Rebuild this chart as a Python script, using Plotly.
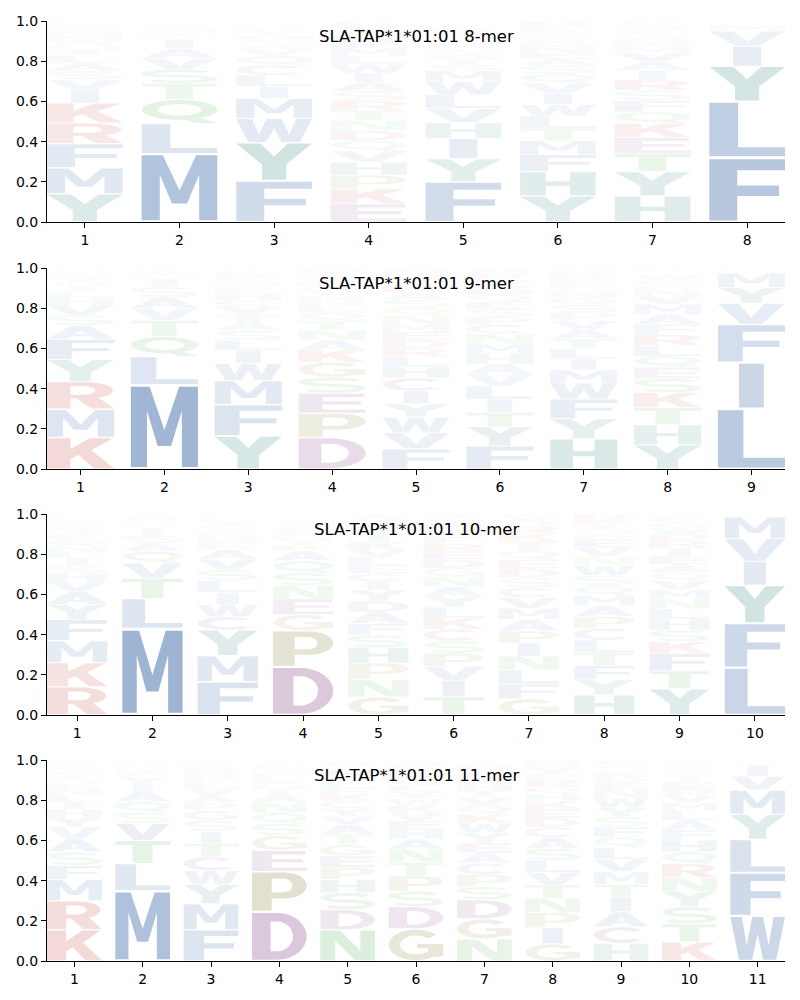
import math
import plotly.graph_objects as go

# ---------------- data ----------------
AMINO_ACIDS = list("ACDEFGHIKLMNPQRSTVWY")

# rows = positions, columns follow AMINO_ACIDS order (probabilities)
FREQ_8MER = [
    [.040, .015, .010, .015, .120, .010, .020, .065, .100, .035, .130, .020, .010, .025, .102, .045, .030, .050, .025, .140],
    [.050, .010, .005, .010, .010, .005, .010, .045, .005, .150, .340, .010, .005, .120, .005, .070, .080, .055, .010, .010],
    [.025, .050, .005, .010, .205, .005, .020, .060, .010, .055, .100, .010, .005, .048, .010, .025, .020, .030, .120, .190],
    [.045, .028, .050, .090, .038, .035, .065, .045, .075, .040, .040, .050, .068, .052, .048, .048, .050, .055, .045, .032],
    [.025, .020, .015, .015, .200, .010, .080, .100, .015, .068, .055, .025, .010, .020, .015, .030, .030, .070, .065, .115],
    [.035, .020, .025, .030, .085, .020, .120, .055, .020, .060, .070, .030, .020, .048, .020, .040, .062, .050, .058, .130],
    [.045, .015, .020, .080, .056, .020, .130, .048, .070, .020, .030, .025, .020, .058, .050, .052, .090, .042, .010, .120],
    [.005, .000, .000, .000, .320, .000, .003, .100, .000, .280, .030, .000, .000, .002, .000, .000, .005, .075, .010, .175],
]

FREQ_9MER = [
    [.070, .005, .010, .012, .100, .005, .040, .025, .157, .030, .140, .012, .005, .020, .138, .050, .020, .048, .010, .110],
    [.055, .010, .000, .005, .010, .000, .005, .040, .000, .140, .420, .010, .000, .100, .000, .050, .080, .060, .010, .010],
    [.040, .030, .010, .020, .155, .010, .030, .065, .020, .050, .120, .020, .005, .020, .020, .050, .040, .040, .085, .165],
    [.050, .020, .157, .100, .020, .075, .025, .015, .060, .035, .015, .050, .120, .040, .025, .080, .045, .025, .020, .020],
    [.035, .064, .040, .040, .100, .025, .055, .065, .035, .050, .040, .040, .025, .040, .045, .040, .035, .080, .078, .066],
    [.050, .045, .030, .035, .115, .025, .050, .068, .030, .065, .050, .050, .040, .035, .025, .040, .070, .060, .020, .095],
    [.045, .020, .020, .020, .098, .015, .150, .055, .020, .050, .065, .030, .040, .035, .020, .040, .050, .045, .080, .100],
    [.050, .010, .025, .056, .052, .025, .100, .010, .075, .054, .050, .030, .010, .055, .053, .070, .085, .040, .025, .120],
    [.005, .000, .000, .000, .190, .000, .000, .230, .000, .300, .072, .000, .000, .000, .000, .000, .005, .105, .015, .078],
]

FREQ_10MER = [
    [.065, .010, .015, .025, .105, .015, .040, .035, .120, .030, .110, .030, .010, .030, .140, .040, .025, .050, .020, .075],
    [.040, .010, .000, .010, .010, .000, .010, .035, .000, .150, .430, .010, .000, .060, .000, .040, .100, .075, .010, .010],
    [.048, .065, .020, .020, .165, .010, .020, .060, .010, .058, .130, .020, .020, .020, .010, .056, .020, .050, .062, .128],
    [.050, .005, .240, .078, .010, .080, .020, .010, .025, .020, .010, .065, .180, .060, .020, .064, .025, .020, .005, .015],
    [.056, .040, .055, .040, .058, .090, .078, .042, .035, .040, .025, .088, .080, .030, .030, .062, .035, .040, .025, .055],
    [.050, .058, .042, .040, .036, .045, .032, .080, .056, .054, .034, .048, .065, .025, .038, .062, .090, .072, .020, .052],
    [.058, .050, .045, .045, .075, .080, .025, .065, .040, .070, .055, .068, .060, .045, .035, .050, .045, .053, .015, .020],
    [.055, .060, .025, .040, .070, .025, .100, .025, .025, .062, .050, .045, .058, .050, .025, .050, .065, .045, .048, .075],
    [.040, .020, .030, .040, .085, .025, .055, .040, .060, .050, .045, .050, .020, .042, .040, .058, .090, .045, .030, .130],
    [.005, .000, .000, .000, .221, .000, .000, .120, .000, .236, .108, .000, .000, .000, .000, .000, .000, .112, .010, .188],
]

FREQ_11MER = [
    [.065, .010, .015, .025, .070, .015, .042, .035, .155, .035, .105, .030, .010, .025, .145, .068, .025, .060, .020, .045],
    [.050, .010, .000, .010, .020, .000, .010, .040, .005, .135, .350, .010, .000, .053, .005, .055, .115, .085, .020, .030],
    [.035, .068, .015, .020, .155, .050, .020, .060, .015, .030, .130, .020, .040, .010, .010, .055, .066, .035, .070, .095],
    [.040, .005, .245, .105, .010, .075, .020, .005, .020, .020, .010, .052, .200, .055, .020, .058, .030, .020, .005, .010],
    [.050, .035, .100, .058, .030, .055, .065, .015, .035, .030, .015, .155, .060, .030, .030, .085, .052, .040, .015, .040],
    [.050, .020, .110, .042, .020, .160, .048, .010, .035, .030, .015, .066, .075, .030, .030, .078, .068, .040, .035, .035],
    [.050, .055, .095, .050, .025, .100, .030, .015, .045, .025, .020, .110, .062, .045, .030, .065, .035, .040, .048, .050],
    [.055, .052, .045, .045, .030, .085, .035, .080, .040, .060, .025, .072, .076, .035, .035, .058, .065, .063, .020, .030],
    [.075, .082, .025, .030, .050, .020, .088, .070, .025, .058, .064, .045, .020, .052, .020, .050, .066, .062, .046, .048],
    [.050, .020, .030, .030, .052, .020, .058, .030, .095, .045, .040, .070, .020, .060, .068, .085, .090, .040, .020, .075],
    [.010, .005, .000, .000, .215, .000, .005, .055, .000, .165, .120, .000, .000, .000, .000, .000, .005, .070, .225, .125],
]

PANEL_FREQS = [FREQ_8MER, FREQ_9MER, FREQ_10MER, FREQ_11MER]
PANEL_TITLES = ["SLA-TAP*1*01:01 8-mer", "SLA-TAP*1*01:01 9-mer",
                "SLA-TAP*1*01:01 10-mer", "SLA-TAP*1*01:01 11-mer"]
Y_TICKS = [0.0, 0.2, 0.4, 0.6, 0.8, 1.0]
Y_TICK_LABELS = ["0.0", "0.2", "0.4", "0.6", "0.8", "1.0"]

# ---------------- style ----------------
GROUP_RGB = {
    "hydrophobic": (29, 81, 153),
    "aromatic": (10, 110, 100),
    "polar": (35, 155, 35),
    "basic": (180, 20, 10),
    "acidic": (110, 30, 110),
    "special": (110, 105, 15),
}
AA_GROUP = {
    "A": "hydrophobic", "V": "hydrophobic", "I": "hydrophobic", "L": "hydrophobic",
    "M": "hydrophobic", "F": "hydrophobic", "W": "hydrophobic",
    "Y": "aromatic", "H": "aromatic",
    "N": "polar", "Q": "polar", "S": "polar", "T": "polar",
    "K": "basic", "R": "basic",
    "D": "acidic", "E": "acidic", "C": "acidic",
    "P": "special", "G": "special",
}
LETTER_WIDTH = 0.8
NARROW = {"I": 0.37}
VPAD = 0.05
FONT = "DejaVu Sans"

# ---------------- glyph outlines (unit box) ----------------
def arc(cx, cy, rx, ry, a0, a1, n=28):
    pts = []
    for i in range(n + 1):
        a = math.radians(a0 + (a1 - a0) * i / n)
        pts.append((cx + rx * math.cos(a), cy + ry * math.sin(a)))
    return pts


def area(pts):
    s = 0.0
    for i in range(len(pts)):
        x1, y1 = pts[i]
        x2, y2 = pts[(i + 1) % len(pts)]
        s += x1 * y2 - x2 * y1
    return s / 2


def orient(pts, ccw=True):
    return pts if (area(pts) > 0) == ccw else pts[::-1]


def stroke(center, hw):
    left, right = [], []
    n = len(center)
    for i in range(n):
        x0, y0 = center[max(i - 1, 0)]
        x1, y1 = center[min(i + 1, n - 1)]
        dx, dy = x1 - x0, y1 - y0
        L = math.hypot(dx, dy) or 1
        nx, ny = -dy / L, dx / L
        px, py = center[i]
        left.append((px + nx * hw, py + ny * hw))
        right.append((px - nx * hw, py - ny * hw))
    return left + right[::-1]


def build_glyphs():
    g = {}
    O = lambda p: orient(p, True)
    Hh = lambda p: orient(p, False)
    g["A"] = [O([(0, 0), (0.3, 0), (0.37, 0.2), (0.63, 0.2), (0.7, 0), (1, 0), (0.64, 1), (0.36, 1)]),
              Hh([(0.42, 0.35), (0.58, 0.35), (0.5, 0.62)])]
    g["C"] = [O(arc(.5, .5, .5, .5, 42, 318, 40) + arc(.5, .5, .29, .31, 318, 42, 40))]
    g["D"] = [O([(0, 0), (0.45, 0)] + arc(.45, .5, .55, .5, -90, 90) + [(0.45, 1), (0, 1)]),
              Hh([(0.34, 0.18), (0.45, 0.18)] + arc(.45, .5, .3, .32, -90, 90) + [(0.45, 0.82), (0.34, 0.82)])]
    g["E"] = [O([(0, 0), (1, 0), (1, 0.18), (0.36, 0.18), (0.36, 0.43), (0.93, 0.43), (0.93, 0.6),
                 (0.36, 0.6), (0.36, 0.82), (0.98, 0.82), (0.98, 1), (0, 1)])]
    g["F"] = [O([(0, 0), (0.37, 0), (0.37, 0.4), (0.92, 0.4), (0.92, 0.57), (0.37, 0.57),
                 (0.37, 0.82), (1, 0.82), (1, 1), (0, 1)])]
    g["G"] = [O(arc(.5, .5, .5, .5, 42, 335, 40) + arc(.5, .5, .29, .31, 335, 42, 40)),
              O([(0.72, 0.08), (1.0, 0.14), (1.0, 0.53), (0.52, 0.53), (0.52, 0.39), (0.72, 0.39)])]
    g["H"] = [O([(0, 0), (0.34, 0), (0.34, 0.42), (0.66, 0.42), (0.66, 0), (1, 0), (1, 1), (0.66, 1),
                 (0.66, 0.6), (0.34, 0.6), (0.34, 1), (0, 1)])]
    g["I"] = [O([(0, 0), (1, 0), (1, 1), (0, 1)])]
    g["K"] = [O([(0, 0), (0.35, 0), (0.35, 0.3), (0.47, 0.44), (0.7, 0), (1, 0), (0.66, 0.6),
                 (0.98, 1), (0.64, 1), (0.35, 0.64), (0.35, 1), (0, 1)])]
    g["L"] = [O([(0, 0), (1, 0), (1, 0.17), (0.38, 0.17), (0.38, 1), (0, 1)])]
    g["M"] = [O([(0, 0), (0.24, 0), (0.24, 0.7), (0.4, 0.26), (0.6, 0.26), (0.76, 0.7), (0.76, 0),
                 (1, 0), (1, 1), (0.72, 1), (0.5, 0.46), (0.28, 1), (0, 1)])]
    g["N"] = [O([(0, 0), (0.27, 0), (0.27, 0.66), (0.64, 0), (1, 0), (1, 1), (0.73, 1), (0.73, 0.34),
                 (0.36, 1), (0, 1)])]
    g["P"] = [O([(0, 0), (0.36, 0), (0.36, 0.32), (0.6, 0.32)] + arc(.6, .66, .4, .34, -90, 90) + [(0.6, 1), (0, 1)]),
              Hh([(0.36, 0.48), (0.56, 0.48)] + arc(.56, .66, .18, .18, -90, 90) + [(0.56, 0.84), (0.36, 0.84)])]
    g["Q"] = [O(arc(.5, .57, .5, .43, 0, 360, 56)[:-1]),
              Hh(arc(.5, .57, .29, .25, 0, 360, 56)[:-1]),
              O([(0.5, 0.2), (0.72, 0.0), (1.0, 0.0), (0.76, 0.22)])]
    g["R"] = [O([(0, 0), (0.35, 0), (0.35, 0.38), (0.58, 0.38)] + arc(.58, .69, .4, .31, -90, 90) + [(0.58, 1), (0, 1)]),
              Hh([(0.35, 0.53), (0.55, 0.53)] + arc(.55, .69, .17, .16, -90, 90) + [(0.55, 0.85), (0.35, 0.85)]),
              O([(0.42, 0.42), (0.66, 0.0), (1.0, 0.0), (0.74, 0.47)])]
    center = arc(.5, .705, .41, .205, 30, 270, 36) + arc(.5, .295, .41, .205, 90, -150, 36)[1:]
    g["S"] = [O(stroke(center, 0.09))]
    g["T"] = [O([(0.32, 0), (0.68, 0), (0.68, 0.82), (1, 0.82), (1, 1), (0, 1), (0, 0.82), (0.32, 0.82)])]
    g["V"] = [O([(0, 1), (0.31, 1), (0.5, 0.3), (0.69, 1), (1, 1), (0.66, 0), (0.34, 0)])]
    g["W"] = [O([(0, 1), (0.21, 1), (0.3, 0.33), (0.4, 1), (0.6, 1), (0.7, 0.33), (0.79, 1), (1, 1),
                 (0.84, 0), (0.6, 0), (0.5, 0.6), (0.4, 0), (0.16, 0)])]
    g["Y"] = [O([(0, 1), (0.32, 1), (0.5, 0.64), (0.68, 1), (1, 1), (0.66, 0.42), (0.66, 0),
                 (0.34, 0), (0.34, 0.42)])]
    return g


GLYPHS = build_glyphs()


def glyph_path(letter, x0, y0, w, h):
    parts = []
    for ring in GLYPHS[letter]:
        pts = ["%.4f,%.5f" % (x0 + px * w, y0 + py * h) for px, py in ring]
        parts.append("M" + "L".join(pts) + "Z")
    return "".join(parts)


# ---------------- figure ----------------
# the page body has an 8px margin; size the figure so it fits the 800x1000 window
PAGE_OFF = 8
FIG_W, FIG_H = 792, 992
M_L, M_R, M_T, M_B = 39, 15, 13, 39
PANEL_TOPS = [21, 268, 514, 760]      # page pixel rows of each panel's top
PANEL_H = 201
plot_top = PAGE_OFF + M_T
plot_bot = PAGE_OFF + FIG_H - M_B
plot_h = plot_bot - plot_top

fig = go.Figure()
shapes = []
annotations = []
layout_axes = {}

for k, (freqs, title) in enumerate(zip(PANEL_FREQS, PANEL_TITLES)):
    idx = "" if k == 0 else str(k + 1)
    xa, ya = "x" + idx, "y" + idx
    n_pos = len(freqs)
    positions = list(range(1, n_pos + 1))

    top_px, bot_px = PANEL_TOPS[k], PANEL_TOPS[k] + PANEL_H
    dom = [(plot_bot - bot_px) / plot_h, (plot_bot - top_px) / plot_h]
    dom = [max(0.0, min(1.0, d)) for d in dom]

    fig.add_trace(go.Scatter(x=positions, y=[0] * n_pos, mode="markers",
                             marker=dict(opacity=0), hoverinfo="skip",
                             showlegend=False, xaxis=xa, yaxis=ya))

    layout_axes["xaxis" + idx] = dict(
        domain=[0, 1], anchor=ya, range=[0.6, n_pos + 0.4], automargin=False,
        tickmode="array", tickvals=positions, ticktext=[str(p) for p in positions],
        showline=True, linecolor="black", linewidth=1.1, ticks="outside",
        ticklen=5, tickwidth=1.1, tickcolor="black", showgrid=False, zeroline=False,
        tickfont=dict(family=FONT, size=14, color="black"), fixedrange=True)
    layout_axes["yaxis" + idx] = dict(
        domain=dom, anchor=xa, range=[0, 1], automargin=False,
        tickmode="array", tickvals=Y_TICKS, ticktext=Y_TICK_LABELS,
        showline=True, linecolor="black", linewidth=1.1, ticks="outside",
        ticklen=5, tickwidth=1.1, tickcolor="black", showgrid=False, zeroline=False,
        tickfont=dict(family=FONT, size=14, color="black"), fixedrange=True)

    annotations.append(dict(text=title, xref=xa + " domain", yref=ya + " domain",
                            x=0.5, y=1 - 15 / PANEL_H, xanchor="center", yanchor="middle",
                            showarrow=False, font=dict(family=FONT, size=16.5, color="black")))

    for p, row in zip(positions, freqs):
        items = [(v, i, aa) for i, (aa, v) in enumerate(zip(AMINO_ACIDS, row)) if v > 0]
        items.sort(key=lambda t: (-t[0], t[1]))
        base = 0.0
        for v, _, aa in items:
            wf = NARROW.get(aa, 1.0)
            w = LETTER_WIDTH * wf
            x0 = p - w / 2
            pad = VPAD * v / 2
            r, g_, b = GROUP_RGB[AA_GROUP[aa]]
            shapes.append(dict(
                type="path", xref=xa, yref=ya,
                path=glyph_path(aa, x0, base + pad, w, v - 2 * pad),
                fillcolor="rgba(%d,%d,%d,%.4f)" % (r, g_, b, min(1.0, v)),
                line=dict(width=0), fillrule="nonzero", layer="above"))
            base += v

fig.update_layout(
    width=FIG_W, height=FIG_H,
    margin=dict(l=M_L, r=M_R, t=M_T, b=M_B, autoexpand=False),
    paper_bgcolor="white", plot_bgcolor="white",
    shapes=shapes, annotations=annotations, showlegend=False,
    font=dict(family=FONT, color="black"),
    **layout_axes)

fig.write_html("out.html")
